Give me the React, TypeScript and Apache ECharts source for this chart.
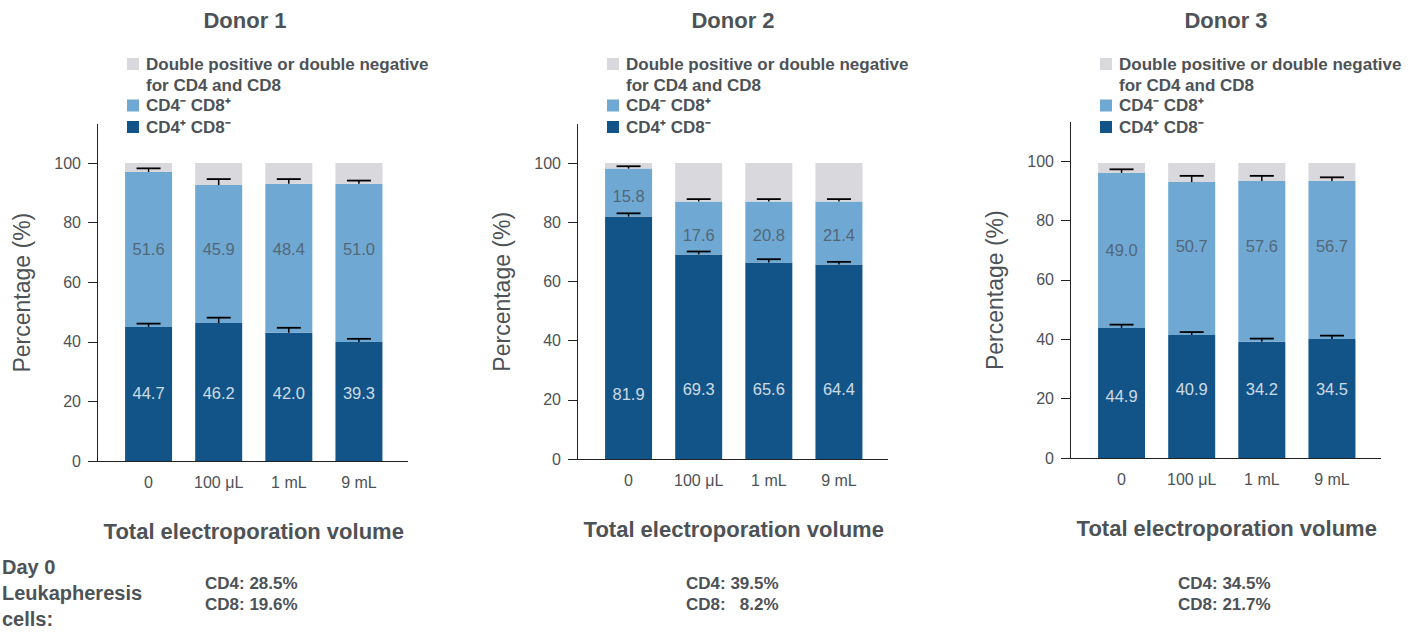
import React, { useEffect, useRef } from "react";
import * as echarts from "echarts";

// ---- data ----
const categories = ["0", "100 μL", "1 mL", "9 mL"];
const donorNames = ["Donor 1", "Donor 2", "Donor 3"];
const yTicks = [0, 20, 40, 60, 80, 100];
const seriesNames = ["CD4⁺ CD8⁻", "CD4⁻ CD8⁺", "Double positive or double negative\nfor CD4 and CD8"];

// Donor 1 (segment heights, %)
const d1Cd4 = [45.0, 46.3, 43.0, 39.9];
const d1Cd8 = [52.0, 46.3, 50.0, 53.1];
const d1Other = [3.0, 7.4, 7.0, 7.0];
const d1Cd4Err = [1.1, 1.8, 1.7, 1.1];
const d1Cd8Err = [1.2, 2.0, 1.6, 1.1];
const d1Cd4Labels = ["44.7", "46.2", "42.0", "39.3"];
const d1Cd8Labels = ["51.6", "45.9", "48.4", "51.0"];
const d1Cd4LabelAt = [22.7, 22.7, 22.7, 22.7];
const d1Cd8LabelAt = [71.1, 71.1, 71.1, 71.1];

// Donor 2
const d2Cd4 = [81.9, 69.1, 66.4, 65.7];
const d2Cd8 = [16.2, 17.9, 20.6, 21.3];
const d2Other = [1.9, 13.0, 13.0, 13.0];
const d2Cd4Err = [1.1, 1.0, 1.1, 0.9];
const d2Cd8Err = [0.8, 0.8, 0.8, 0.8];
const d2Cd4Labels = ["81.9", "69.3", "65.6", "64.4"];
const d2Cd8Labels = ["15.8", "17.6", "20.8", "21.4"];
const d2Cd4LabelAt = [22.0, 23.6, 23.6, 23.6];
const d2Cd8LabelAt = [89.0, 75.7, 75.7, 75.7];

// Donor 3
const d3Cd4 = [43.8, 41.4, 39.1, 40.1];
const d3Cd8 = [52.2, 51.5, 54.2, 53.2];
const d3Other = [3.3, 6.4, 6.0, 6.0];
const d3Cd4Err = [1.1, 1.0, 1.1, 1.1];
const d3Cd8Err = [1.2, 2.1, 1.7, 1.2];
const d3Cd4Labels = ["44.9", "40.9", "34.2", "34.5"];
const d3Cd8Labels = ["49.0", "50.7", "57.6", "56.7"];
const d3Cd4LabelAt = [20.9, 23.2, 23.2, 23.2];
const d3Cd8LabelAt = [70.0, 71.4, 71.4, 71.4];

// Day 0 leukapheresis
const leukCd4 = ["28.5%", "39.5%", "34.5%"];
const leukCd8 = ["19.6%", "  8.2%", "21.7%"];
const leukTitle = ["Day 0", "Leukapheresis", "cells:"];

// ---- layout / style ----
const FONT = "'Liberation Sans', Arial, Helvetica, sans-serif";
const TEXT = "#4d5257";
const DARK = "#125488";
const LIGHT = "#6fa8d3";
const GRAY = "#d8d8dd";
const AXIS = "#222222";
const YMAX = 113;
const axisX = [97, 577, 1070];
const bottomY = [461, 459, 458];
const unitPx = [2.98, 2.96, 2.97];
const titleX = [245, 733, 1226];

const panels = [
  { cd4: d1Cd4, cd8: d1Cd8, other: d1Other, e4: d1Cd4Err, e8: d1Cd8Err, l4: d1Cd4Labels, l8: d1Cd8Labels, a4: d1Cd4LabelAt, a8: d1Cd8LabelAt },
  { cd4: d2Cd4, cd8: d2Cd8, other: d2Other, e4: d2Cd4Err, e8: d2Cd8Err, l4: d2Cd4Labels, l8: d2Cd8Labels, a4: d2Cd4LabelAt, a8: d2Cd8LabelAt },
  { cd4: d3Cd4, cd8: d3Cd8, other: d3Other, e4: d3Cd4Err, e8: d3Cd8Err, l4: d3Cd4Labels, l8: d3Cd8Labels, a4: d3Cd4LabelAt, a8: d3Cd8LabelAt },
];

function buildOption() {
  const grid: any[] = [];
  const xAxis: any[] = [];
  const yAxis: any[] = [];
  const series: any[] = [];
  const graphic: any[] = [];

  panels.forEach((p, k) => {
    const h = YMAX * unitPx[k];
    grid.push({ left: axisX[k] + 16.5, width: 280.5, top: bottomY[k] - h, height: h });
    xAxis.push({
      gridIndex: k,
      type: "category",
      data: categories,
      axisLine: { show: false },
      axisTick: { show: false },
      axisLabel: { fontSize: 16, color: TEXT, margin: 13, fontFamily: FONT },
      name: "Total electroporation volume",
      nameLocation: "middle",
      nameGap: 59,
      nameTextStyle: { fontSize: 22, fontWeight: "bold", color: TEXT, fontFamily: FONT },
    });
    yAxis.push({
      gridIndex: k,
      type: "value",
      min: 0,
      max: YMAX,
      offset: 16.5,
      axisLine: { show: true, lineStyle: { color: AXIS, width: 1 } },
      axisTick: { show: true, length: 9, customValues: yTicks, lineStyle: { color: AXIS, width: 1 } },
      axisLabel: { customValues: yTicks, fontSize: 16, color: TEXT, margin: 16, fontFamily: FONT },
      splitLine: { show: false },
      name: "Percentage (%)",
      nameLocation: "middle",
      nameGap: 64,
      nameRotate: 90,
      nameTextStyle: { fontSize: 23, color: TEXT, fontFamily: FONT },
    });

    const common = { type: "bar", stack: "s" + k, xAxisIndex: k, yAxisIndex: k, barWidth: 47, silent: true };
    series.push({ ...common, name: seriesNames[0], data: p.cd4, itemStyle: { color: DARK } });
    series.push({ ...common, name: seriesNames[1], data: p.cd8, itemStyle: { color: LIGHT } });
    series.push({ ...common, name: seriesNames[2], data: p.other, itemStyle: { color: GRAY } });

    const errData: any[] = [];
    p.cd4.forEach((v, i) => errData.push([i, v, p.e4[i]]));
    p.cd4.forEach((v, i) => errData.push([i, v + p.cd8[i], p.e8[i]]));
    series.push({
      type: "custom",
      xAxisIndex: k,
      yAxisIndex: k,
      silent: true,
      z: 4,
      encode: { x: 0, y: 1 },
      data: errData,
      renderItem: (params: any, api: any) => {
        const base = api.coord([api.value(0), api.value(1)]);
        const top = api.coord([api.value(0), api.value(1) + api.value(2)]);
        return {
          type: "group",
          children: [
            { type: "line", shape: { x1: base[0], y1: base[1], x2: top[0], y2: top[1] }, style: { stroke: "#000", lineWidth: 1.5 } },
            { type: "line", shape: { x1: top[0] - 12, y1: top[1], x2: top[0] + 12, y2: top[1] }, style: { stroke: "#000", lineWidth: 1.8 } },
          ],
        };
      },
    });

    const labelSeries = (anchors: number[], texts: string[], color: string) => ({
      type: "scatter",
      xAxisIndex: k,
      yAxisIndex: k,
      silent: true,
      z: 5,
      symbolSize: 0,
      data: anchors.map((a, i) => [i, a]),
      label: {
        show: true,
        position: "inside",
        formatter: (pp: any) => texts[pp.dataIndex],
        fontSize: 16.5,
        color,
        fontFamily: FONT,
      },
    });
    series.push(labelSeries(p.a4, p.l4, "#ffffff"));
    series.push(labelSeries(p.a8, p.l8, "#4a5560"));

    // title
    graphic.push({
      type: "text",
      x: titleX[k],
      y: 20,
      style: { text: donorNames[k], fontSize: 22, fontWeight: "bold", fill: TEXT, fontFamily: FONT, align: "center", verticalAlign: "middle" },
    });
    // legend
    const lx = axisX[k] + 30;
    const rows = [
      { y: 64, color: GRAY, text: seriesNames[2] },
      { y: 105.5, color: LIGHT, text: seriesNames[1] },
      { y: 127, color: DARK, text: seriesNames[0] },
    ];
    rows.forEach((r) => {
      graphic.push({ type: "rect", shape: { x: lx, y: r.y - 6, width: 12, height: 12 }, style: { fill: r.color } });
      graphic.push({
        type: "text",
        x: lx + 19,
        y: r.y - 10.5,
        style: { text: r.text, fontSize: 17, fontWeight: "bold", fill: TEXT, fontFamily: FONT, lineHeight: 21, align: "left", verticalAlign: "top" },
      });
    });
    // x axis line
    graphic.push({
      type: "line",
      shape: { x1: axisX[k], y1: bottomY[k] + 0.5, x2: axisX[k] + 311, y2: bottomY[k] + 0.5 },
      style: { stroke: AXIS, lineWidth: 1 },
    });
    // leukapheresis values
    const cx = [205, 686, 1178][k];
    graphic.push({
      type: "text",
      x: cx,
      y: 573,
      style: { text: "CD4: " + leukCd4[k] + "\nCD8: " + leukCd8[k], fontSize: 17, fontWeight: "bold", fill: TEXT, fontFamily: FONT, lineHeight: 21, align: "left", verticalAlign: "top" },
    });
  });

  const leftY = [567, 593, 619];
  leukTitle.forEach((t, i) =>
    graphic.push({
      type: "text",
      x: 2,
      y: leftY[i],
      style: { text: t, fontSize: 20, fontWeight: "bold", fill: TEXT, fontFamily: FONT, align: "left", verticalAlign: "middle" },
    })
  );

  return {
    animation: false,
    backgroundColor: "#ffffff",
    textStyle: { fontFamily: FONT },
    grid,
    xAxis,
    yAxis,
    series,
    graphic,
  };
}

export default function App() {
  const ref = useRef<HTMLDivElement>(null);
  useEffect(() => {
    if (!ref.current) return;
    const chart = echarts.init(ref.current, undefined, { renderer: "svg" });
    chart.setOption(buildOption() as any);
    return () => chart.dispose();
  }, []);
  return <div ref={ref} style={{ position: "fixed", left: 0, top: 0, width: 1424, height: 632 }} />;
}
